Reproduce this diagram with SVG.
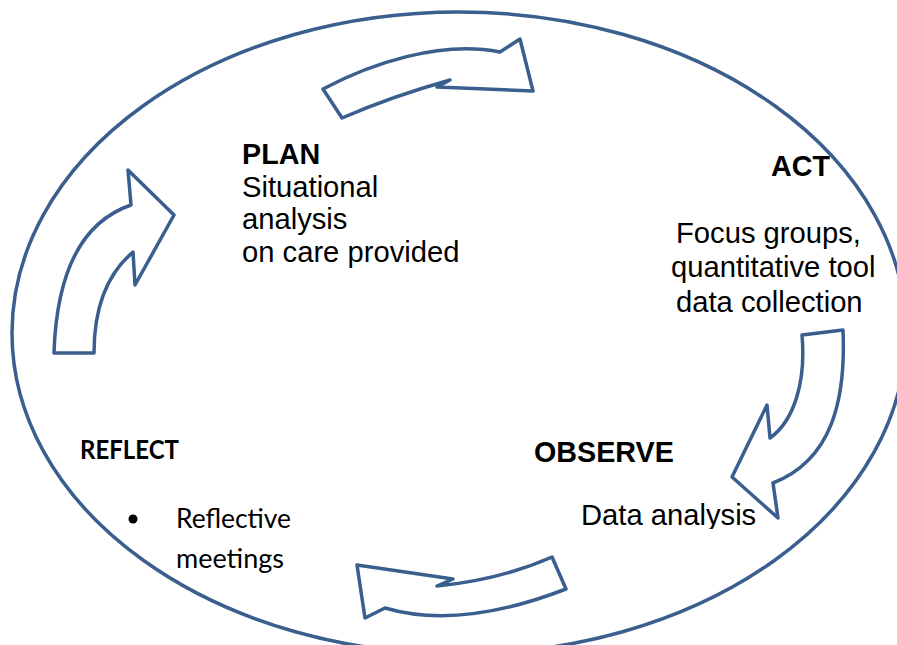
<svg xmlns="http://www.w3.org/2000/svg" width="897" height="645" viewBox="0 0 897 645">
<style>
.ring{fill:none;stroke:#3A5F8E;stroke-width:3.5}
.arr{fill:#FFFFFF;stroke:#3A5F8E;stroke-width:3.5;stroke-linejoin:round}
.h{font-family:"Liberation Sans",Arial,sans-serif;font-size:28.7px;font-weight:bold;fill:#000}
.t{font-family:"Liberation Sans",Arial,sans-serif;font-size:29.2px;fill:#000}
.c{font-family:Lato,"Open Sans",sans-serif;font-size:27px;fill:#000}
.cb{font-family:Lato,"Open Sans",sans-serif;font-size:27px;font-weight:bold;fill:#000}
</style>
<defs>
<clipPath id="clipAct"><rect x="660" y="200" width="237" height="119"/></clipPath>
<clipPath id="clipObs"><rect x="560" y="490" width="220" height="39"/></clipPath>
</defs>
<rect width="897" height="645" fill="#FFFFFF"/>
<g id="cycle-ring">
<ellipse class="ring" cx="459" cy="333" rx="447" ry="321"/>
</g>
<g id="connectors">
<path class="arr" d="M323,89 C370,64 440,40 500,52 L520,39 L533,91 L437,87 L450,80 Q390,97 342,118 Z"/>
<path class="arr" d="M802,335 L843,330 C846,400 832,460 773,483 L778,518 L732,477 L767,405 L770,438 C795,420 806,380 802,335 Z"/>
<path class="arr" d="M357,565 L453,579 L437,586 Q500,580 552,557 L566,589 Q460,630 385,608 L365,618 Z"/>
<path class="arr" d="M54,353 L94,353 Q94,285 133,252 L135,285 L174,215 L128,170 L131,205 Q58,230 54,353 Z"/>
</g>
<g id="plan">
<text class="h" x="242" y="164">PLAN</text>
<text class="t" x="242" y="197">Situational</text>
<text class="t" x="242" y="229">analysis</text>
<text class="t" x="242" y="262">on care provided</text>
</g>
<g id="act">
<text class="h" x="771" y="176">ACT</text>
<g clip-path="url(#clipAct)">
<text class="t" x="676" y="243">Focus groups,</text>
<text class="t" x="671" y="277">quantitative tool</text>
<text class="t" x="676" y="312">data collection</text>
</g>
</g>
<g id="observe">
<text class="h" x="534" y="462">OBSERVE</text>
<g clip-path="url(#clipObs)">
<text class="t" x="581" y="525">Data analysis</text>
</g>
</g>
<g id="reflect">
<text class="cb" x="80" y="459" textLength="99" lengthAdjust="spacingAndGlyphs">REFLECT</text>
<circle cx="133" cy="519" r="4.5" fill="#000"/>
<text class="c" x="176" y="528" textLength="115" lengthAdjust="spacingAndGlyphs">Reflective</text>
<text class="c" x="176" y="568" textLength="108" lengthAdjust="spacingAndGlyphs">meetings</text>
</g>
</svg>
